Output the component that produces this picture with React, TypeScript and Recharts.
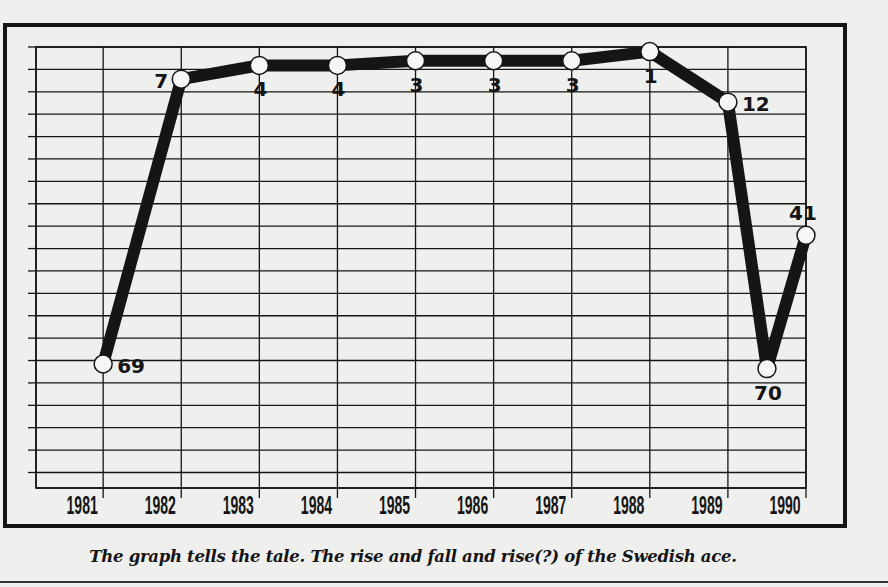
import React from 'react';
import { CartesianGrid, Line, LineChart, ReferenceArea, XAxis, YAxis } from 'recharts';

// season positions on the time axis (the 70 sits midway through 1989/90)
const seasons = [1981, 1982, 1983, 1984, 1985, 1986, 1987, 1988, 1989, 1989.5, 1990];
// year-end world ranking
const rankings = [69, 7, 4, 4, 3, 3, 3, 1, 12, 70, 41];
const yearTicks = [1981, 1982, 1983, 1984, 1985, 1986, 1987, 1988, 1989, 1990];
// which side of the marker each ranking number sits on
const labelSide = ['right', 'left', 'below', 'below', 'below', 'below', 'below', 'below', 'right', 'below', 'above'];

const RANK_STEP = 4.875;
const rankGrid = Array.from({ length: 20 }, (_, i) => i * RANK_STEP);

const data = seasons.map((s, i) => ({ season: s, rank: rankings[i] }));

const INK = '#151515';
const PAPER = '#efefed';

const YearTick = (props: any) => {
  const { x, y, payload } = props;
  return (
    <g transform={`translate(${x - 21},${y + 14})`}>
      <text
        transform="scale(0.56,1)"
        textAnchor="middle"
        fontFamily="'Liberation Sans', Arial, sans-serif"
        fontWeight={700}
        fontSize={25}
        fill={INK}
      >
        {payload.value}
      </text>
    </g>
  );
};

const RankDot = (props: any) => {
  const { cx, cy, index, value } = props;
  const side = labelSide[index];
  let tx = cx;
  let ty = cy;
  let anchor: 'start' | 'middle' | 'end' = 'middle';
  if (side === 'right') {
    tx = cx + 14;
    ty = cy + 9;
    anchor = 'start';
  } else if (side === 'left') {
    tx = cx - 13;
    ty = cy + 9;
    anchor = 'end';
  } else if (side === 'below') {
    tx = cx + 1;
    ty = cy + 31;
  } else {
    tx = cx - 3;
    ty = cy - 15;
  }
  return (
    <g key={`dot-${index}`}>
      <circle cx={cx} cy={cy} r={9} fill="#f6f6f4" stroke={INK} strokeWidth={1.5} />
      <text
        x={tx}
        y={ty}
        textAnchor={anchor}
        fontFamily="'DejaVu Sans', sans-serif"
        fontWeight={700}
        fontSize={20}
        fill={INK}
      >
        {value}
      </text>
    </g>
  );
};

const App = () => {
  return (
    <div style={{ position: 'absolute', left: 0, top: 0, width: 888, height: 587, background: PAPER, overflow: 'hidden' }}>
      <div
        style={{
          position: 'absolute',
          left: 3,
          top: 23,
          width: 836,
          height: 497,
          border: `4px solid ${INK}`,
        }}
      />
      <div style={{ position: 'absolute', left: 0, top: 0 }}>
        <LineChart width={888} height={587} data={data} margin={{ top: 47, right: 82, bottom: 69, left: 28 }}>
          <CartesianGrid stroke={INK} strokeWidth={1.3} />
          <ReferenceArea
            x1={1980.14}
            x2={1990}
            y1={0}
            y2={96}
            fill="none"
            stroke={INK}
            strokeWidth={1.6}
            fillOpacity={0}
          />
          <XAxis
            dataKey="season"
            type="number"
            domain={[1980.14, 1990]}
            ticks={yearTicks}
            height={30}
            axisLine={false}
            tickLine={{ stroke: INK, strokeWidth: 1.3 }}
            tickSize={10}
            tick={<YearTick />}
            interval={0}
          />
          <YAxis
            type="number"
            reversed
            domain={[0, 96]}
            ticks={rankGrid}
            interval={0}
            width={8}
            axisLine={false}
            tickLine={{ stroke: INK, strokeWidth: 1.3 }}
            tickSize={8}
            tick={() => <g />}
          />
          <Line
            dataKey="rank"
            type="linear"
            stroke={INK}
            strokeWidth={12}
            strokeLinejoin="round"
            strokeLinecap="round"
            dot={RankDot}
            activeDot={false}
            isAnimationActive={false}
          />
        </LineChart>
      </div>
      <div
        style={{
          position: 'absolute',
          left: 0,
          top: 547,
          width: 826,
          textAlign: 'center',
          fontFamily: "'DejaVu Serif', 'Liberation Serif', serif",
          fontStyle: 'italic',
          fontWeight: 700,
          fontSize: 16.5,
          lineHeight: '20px',
          letterSpacing: -0.3,
          color: INK,
        }}
      >
        The graph tells the tale. The rise and fall and rise(?) of the Swedish ace.
      </div>
      <div style={{ position: 'absolute', left: 0, top: 581, width: 888, height: 2, background: '#333' }} />
    </div>
  );
};

export default App;
